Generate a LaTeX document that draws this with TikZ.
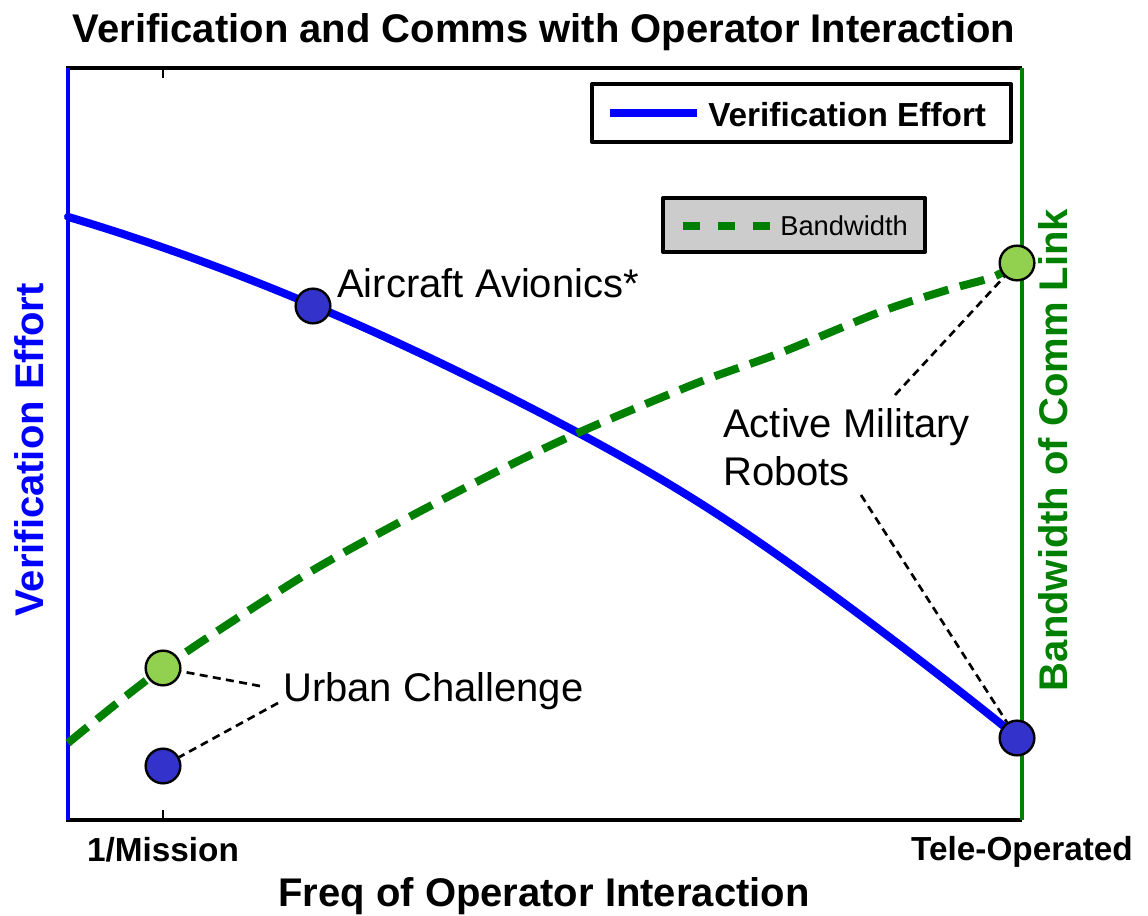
\documentclass[tikz,border=0pt]{standalone}
\usepackage{fontspec}
\setmainfont{Liberation Sans}
\definecolor{effortblue}{RGB}{0,0,255}
\definecolor{bwgreen}{RGB}{0,128,0}
\definecolor{dotblue}{RGB}{51,51,204}
\definecolor{dotgreen}{RGB}{146,208,80}
\definecolor{legendgray}{RGB}{204,204,204}

\begin{document}
\begin{tikzpicture}[x=0.75pt,y=-0.75pt,
    effort/.style={effortblue,line width=6pt,line join=round,line cap=round},
    bw/.style={bwgreen,line width=6pt,dash pattern=on 19pt off 9pt},
    dot/.style={circle,draw=black,line width=1.8pt,minimum size=26pt,inner sep=0pt},
    leader/.style={black,line width=2pt,dash pattern=on 6pt off 4pt},
    big/.style={font=\bfseries\fontsize{30}{36}\selectfont,inner sep=0pt},
    ticklabel/.style={font=\bfseries\fontsize{25}{30}\selectfont,inner sep=0pt,anchor=base},
    note/.style={font=\fontsize{30}{36}\selectfont,inner sep=0pt}]
    \useasboundingbox (0,0) rectangle (1148,916);

    \node[big,anchor=base] (title) at (544,43) {Verification and Comms with Operator Interaction};

    \draw [line width=3pt] (66,68) -- (1022,68);
    \draw [line width=3pt] (66,820) -- (1022,820);
    \foreach \tx in {163,1022}
    {
      \draw [line width=2pt] (\tx,820) -- (\tx,810);
      \draw [line width=2pt] (\tx,68) -- (\tx,78);
    }
    \draw [effortblue,line width=3pt] (68,68) -- (68,820);
    \draw [bwgreen,line width=3pt] (1022,68) -- (1022,820);

    \node[ticklabel] (mission) at (163,861) {1/Mission};
    \node[ticklabel] (teleop) at (1022,860) {Tele-Operated};
    \node[big,anchor=base] (xlabel) at (544,906) {Freq of Operator Interaction};
    \node[big,anchor=base,rotate=90,effortblue] (ylabel) at (43,450) {Verification Effort};
    \node[big,anchor=base,rotate=90,bwgreen] (y2label) at (1067,450) {Bandwidth of Comm Link};

    \draw [line width=3pt,line join=round,fill=white] (592,84) rectangle (1011,142);
    \draw [effort,line cap=butt] (610,113) -- (697,113);
    \node[anchor=base west,font=\bfseries\fontsize{25}{30}\selectfont,inner sep=0pt] (legeffort) at (708,127) {Verification Effort};
    \draw [line width=3pt,line join=round,fill=legendgray] (663,198) rectangle (925,252);
    \draw [bwgreen,line width=6pt,dash pattern=on 12.75pt off 13.5pt] (683,226) -- (770,226);
    \node[anchor=base west,font=\fontsize{20.5}{25}\selectfont,inner sep=0pt] (legbw) at (780,236) {Bandwidth};

    \draw [effort] plot[domain=68:1017,samples=80,smooth]
      (\x,{217+29.86*((\x-68)/100)+2.639*((\x-68)/100)^2-8/((1+((\x-700)/250)^2)^2)});
    \draw [bw] plot[smooth] coordinates {(68,743) (163,668) (300,578) (400,522) (500,470) (580,432)
      (697,383) (780,353) (880,312) (947,290) (993,277) (1017,263)};

    \node[dot,fill=dotblue] (aircraft) at (313,306) {};
    \node[dot,fill=dotblue] (urbanblue) at (163,766) {};
    \node[dot,fill=dotgreen] (urbangreen) at (163,668) {};
    \node[dot,fill=dotblue] (teleblue) at (1017,738) {};
    \node[dot,fill=dotgreen] (telegreen) at (1017,263) {};

    \node[note,anchor=base west] (avionics) at (337,297) {Aircraft Avionics*};
    \node[note,anchor=base west] (urban) at (283,701) {Urban Challenge};
    \node[note,anchor=north west,align=left] (military) at (723,408) {Active Military\\Robots};

    \coordinate (uctop) at (260,686);
    \coordinate (ucbot) at (278,703);
    \coordinate (amtop) at (895,395);
    \coordinate (ambot) at (861,495);
    \draw [leader] (uctop) -- (urbangreen);
    \draw [leader] (ucbot) -- (urbanblue);
    \draw [leader] (amtop) -- (telegreen);
    \draw [leader] (ambot) -- (teleblue);
\end{tikzpicture}
\end{document}
